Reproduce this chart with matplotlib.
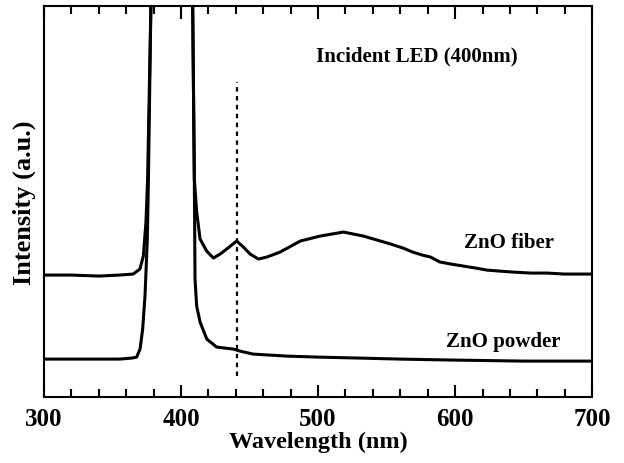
import matplotlib
matplotlib.use("Agg")
import matplotlib.pyplot as plt
from matplotlib.ticker import MultipleLocator

plt.rcParams['font.family'] = ['Liberation Serif', 'DejaVu Serif']
plt.rcParams['font.weight'] = 'bold'

# ZnO fiber spectrum (wavelength nm, intensity a.u.)
fiber_wl = [300, 320, 340, 355, 365, 370, 372.5, 374.4, 375.6, 378, 380, 393, 406,
            408.5, 409.7, 411.4, 413.9, 418.7, 423.6, 428.5, 433.3, 440.6, 445.5,
            450.4, 456.5, 462.6, 472.3, 487, 501.5, 518.5, 533, 543, 553, 562, 569,
            576, 582, 589, 597, 606, 615, 623, 632, 642, 655, 667, 680, 700]
fiber_int = [122, 122, 121, 122, 123, 128, 141, 175, 218, 391, 1500, 2000, 1500,
             391, 218, 185, 158, 146, 139, 143, 148, 156, 150,
             143, 138, 140, 145, 156, 161, 165, 161, 157, 153, 149, 145,
             142, 140, 135, 133, 131, 129, 127, 126, 125, 124, 124, 123, 123]

# ZnO powder spectrum
powder_wl = [300, 320, 340, 355, 364, 367.6, 370.1, 372, 373.7, 375.4, 376.2, 378,
             380, 393, 406, 408.5, 409.7, 410.2, 411.4, 413.9, 418.8, 426, 438.2,
             443, 452.6, 477, 500, 530.7, 560, 600, 650, 700]
powder_int = [38, 38, 38, 38, 39, 40, 48, 68, 101, 158, 218, 391,
              1500, 2000, 1500, 391, 218, 118, 91, 75, 58, 50, 48,
              46, 43, 41, 40, 39, 38, 37, 36, 36]

led_wl = 441
led_span = [21, 315]

fig = plt.figure(figsize=(6.24, 4.64), dpi=100)
ax = fig.add_axes([0.0705, 0.142, 0.8785, 0.843])

ax.plot(fiber_wl, fiber_int, color='black', lw=2.2)
ax.plot(powder_wl, powder_int, color='black', lw=2.2)
ax.plot([led_wl, led_wl], led_span, color='black', lw=1.6, linestyle=(0, (2, 2)))

ax.set_xlim(300, 700)
ax.set_ylim(0, 391)

ax.xaxis.set_major_locator(MultipleLocator(100))
ax.xaxis.set_minor_locator(MultipleLocator(20))
ax.tick_params(axis='x', which='both', direction='in', top=True, bottom=True,
               labelsize=18, width=1.5, pad=7)
ax.tick_params(axis='x', which='major', length=9)
ax.tick_params(axis='x', which='minor', length=5.5)
ax.set_yticks([])
for s in ax.spines.values():
    s.set_linewidth(1.5)

ax.set_xlabel('Wavelength (nm)', fontsize=17.5, fontweight='bold', labelpad=1)
ax.set_ylabel('Intensity (a.u.)', fontsize=19, fontweight='bold', labelpad=6)

ax.text(572, 341, 'Incident LED (400nm)', fontsize=15, fontweight='bold',
        ha='center', va='center')
ax.text(639, 155, 'ZnO fiber', fontsize=15, fontweight='bold', ha='center', va='center')
ax.text(635, 56, 'ZnO powder', fontsize=15, fontweight='bold', ha='center', va='center')

fig.savefig('out.png', dpi=100)
